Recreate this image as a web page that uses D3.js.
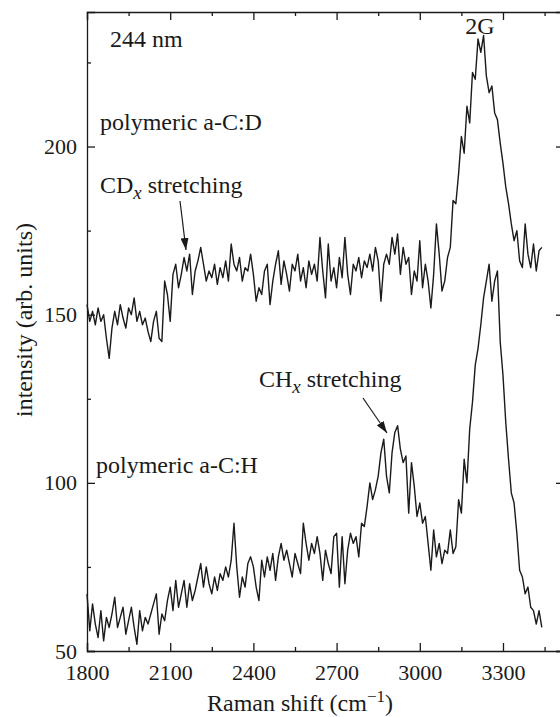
<!DOCTYPE html>
<html lang="en">
<head>
<meta charset="UTF-8">
<title>Raman 244 nm</title>
<style>
  body { margin: 0; background: #fff; }
  svg { font-family: "Liberation Serif", "DejaVu Serif", serif; }
  svg text { font-family: "Liberation Serif", "DejaVu Serif", serif; fill: #1a1a1a; }
  .axis path, .axis line { stroke: #1a1a1a; stroke-width: 1.3; fill: none; }
  .axis text { font-size: 22px; }
</style>
</head>
<body>
<div id="chart"></div>
<script src="https://d3js.org/d3.v7.min.js"></script>
<script>
var serif = 'Liberation Serif, DejaVu Serif, serif';

// Raman shift grid (cm-1), shared by both spectra
var shift = [1800,1810,1820,1830,1840,1850,1860,1870,1880,1890,1900,1910,1920,1930,1940,1950,1960,1970,1980,1990,
  2000,2010,2020,2030,2040,2050,2060,2070,2080,2090,2100,2110,2120,2130,2140,2150,2160,2170,2180,2190,
  2200,2210,2220,2230,2240,2250,2260,2270,2280,2290,2300,2310,2320,2330,2340,2350,2360,2370,2380,2390,
  2400,2410,2420,2430,2440,2450,2460,2470,2480,2490,2500,2510,2520,2530,2540,2550,2560,2570,2580,2590,
  2600,2610,2620,2630,2640,2650,2660,2670,2680,2690,2700,2710,2720,2730,2740,2750,2760,2770,2780,2790,
  2800,2810,2820,2830,2840,2850,2860,2870,2880,2890,2900,2910,2920,2930,2940,2950,2960,2970,2980,2990,
  3000,3010,3020,3030,3040,3050,3060,3070,3080,3090,3100,3110,3120,3130,3140,3150,3160,3170,3180,3190,
  3200,3210,3220,3230,3240,3250,3260,3270,3280,3290,3300,3310,3320,3330,3340,3350,3360,3370,3380,3390,
  3400,3410,3420,3430,3440];

// polymeric a-C:D (upper trace)
var acD = [153,148,151,147,152,148,150,143,137,146,151,147,153,149,146,152,150,155,148,151,
  147,149,145,142,148,151,143,142,160,156,148,162,165,158,162,167,163,168,156,163,
  166,170,165,160,163,161,165,159,164,161,166,160,171,165,163,167,160,164,163,168,
  162,154,158,156,163,165,153,160,165,169,159,166,162,157,165,163,168,160,164,158,
  166,162,165,160,173,163,155,171,160,164,158,167,161,173,162,156,165,163,167,161,
  166,164,168,163,170,166,154,165,168,165,173,168,174,162,170,165,167,156,163,160,
  172,158,165,160,152,162,177,168,157,160,167,170,184,183,192,203,198,212,207,222,
  220,232,228,233,221,216,218,210,208,201,195,188,183,177,172,175,166,164,177,168,
  164,171,163,169,170];

// polymeric a-C:H (lower trace)
var acH = [67,56,64,58,54,62,53,60,57,61,66,57,60,63,55,59,63,57,52,62,
  56,60,58,61,64,67,55,61,59,65,69,62,71,63,67,71,63,70,65,68,
  72,76,69,75,70,67,72,68,73,71,75,72,77,88,75,66,72,69,76,78,
  75,69,65,77,72,78,74,79,71,78,82,77,80,76,72,79,76,73,88,82,
  77,82,79,84,79,71,80,76,73,84,85,69,84,70,80,85,82,84,78,88,
  87,93,100,95,98,102,109,113,102,97,109,115,117,110,106,108,91,106,99,90,
  94,88,90,82,74,86,78,82,76,80,79,86,79,81,95,91,107,100,116,124,
  135,140,147,155,160,165,154,160,163,142,132,118,107,97,94,85,74,72,67,69,
  63,62,58,62,57];

var xMajor = [1800, 2100, 2400, 2700, 3000, 3300];
var xMinor = [1950, 2250, 2550, 2850, 3150, 3450];
var yMajor = [50, 100, 150, 200];
var yMinor = [75, 125, 175, 225];

var width = 560, height = 717;
var margin = { left: 87, top: 12, bottom: 66 };
var plotRight = 564;

var svg = d3.select('#chart').append('svg')
  .attr('width', width).attr('height', height)
  .attr('font-family', serif);

var x = d3.scaleLinear().domain([1800, 3520]).range([margin.left, plotRight]);
var y = d3.scaleLinear().domain([50, 240]).range([height - margin.bottom, margin.top]);

function axisG(tx, ty) {
  return svg.append('g').attr('class', 'axis')
    .attr('transform', 'translate(' + tx + ',' + ty + ')');
}

// frame + ticks (all pointing inward)
axisG(0, y(50))
  .call(d3.axisBottom(x).tickValues(xMajor).tickSize(-8).tickPadding(13).tickFormat(d3.format('d')));
axisG(0, y(50))
  .call(d3.axisBottom(x).tickValues(xMinor).tickSize(-4).tickFormat(''))
  .select('.domain').remove();
axisG(0, y(240))
  .call(d3.axisTop(x).tickValues(xMajor).tickSize(-8).tickFormat(''));
axisG(0, y(240))
  .call(d3.axisTop(x).tickValues(xMinor).tickSize(-4).tickFormat(''))
  .select('.domain').remove();

axisG(x(1800), 0)
  .call(d3.axisLeft(y).tickValues(yMajor).tickSize(-8).tickPadding(10));
axisG(x(1800), 0)
  .call(d3.axisLeft(y).tickValues(yMinor).tickSize(-4).tickFormat(''))
  .select('.domain').remove();
axisG(x(3520), 0)
  .call(d3.axisRight(y).tickValues(yMajor).tickSize(-8).tickFormat(''));
axisG(x(3520), 0)
  .call(d3.axisRight(y).tickValues(yMinor).tickSize(-4).tickFormat(''))
  .select('.domain').remove();

svg.selectAll('.axis').attr('font-family', serif).attr('font-size', 22);

// spectra
var line = d3.line()
  .x(function(d) { return x(d[0]); })
  .y(function(d) { return y(d[1]); });

[acD, acH].forEach(function(vals) {
  svg.append('path')
    .datum(d3.zip(shift, vals))
    .attr('d', line)
    .attr('fill', 'none')
    .attr('stroke', '#1a1a1a')
    .attr('stroke-width', 1.4)
    .attr('stroke-linejoin', 'round');
});

// labels
function label(tx, ty, txt, anchor) {
  return svg.append('text')
    .attr('x', tx).attr('y', ty)
    .attr('font-family', serif)
    .attr('font-size', 24)
    .attr('text-anchor', anchor || 'start')
    .text(txt);
}
label(110, 47, '244 nm');
label(480, 34, '2G', 'middle');
label(100, 130, 'polymeric a-C:D');
label(96, 473, 'polymeric a-C:H');

var cd = label(100, 193, 'CD');
cd.append('tspan').attr('font-style', 'italic').attr('font-size', 19).attr('dy', 6).text('x');
cd.append('tspan').attr('dy', -6).text(' stretching');

var ch = label(259, 387, 'CH');
ch.append('tspan').attr('font-style', 'italic').attr('font-size', 19).attr('dy', 6).text('x');
ch.append('tspan').attr('dy', -6).text(' stretching');

// arrows
svg.append('defs').append('marker')
  .attr('id', 'head').attr('viewBox', '0 0 12 8')
  .attr('refX', 12).attr('refY', 4)
  .attr('markerWidth', 12).attr('markerHeight', 8)
  .attr('markerUnits', 'userSpaceOnUse')
  .attr('orient', 'auto')
  .append('path').attr('d', 'M0,0 L12,4 L0,8 z').attr('fill', '#1a1a1a');

function arrow(x1, y1, x2, y2) {
  svg.append('line')
    .attr('x1', x1).attr('y1', y1).attr('x2', x2).attr('y2', y2)
    .attr('stroke', '#1a1a1a').attr('stroke-width', 1.2)
    .attr('marker-end', 'url(#head)');
}
arrow(180, 201, 186, 250);
arrow(363, 398, 387, 433);

// axis titles
var xt = label(300, 711, 'Raman shift (cm', 'middle');
xt.append('tspan').attr('font-size', 17).attr('dy', -9).text('\u22121');
xt.append('tspan').attr('dy', 9).text(')');

svg.append('text')
  .attr('transform', 'translate(32,' + 320 + ') rotate(-90)')
  .attr('text-anchor', 'middle')
  .attr('font-family', serif)
  .attr('font-size', 24)
  .text('intensity (arb. units)');
</script>
</body>
</html>
